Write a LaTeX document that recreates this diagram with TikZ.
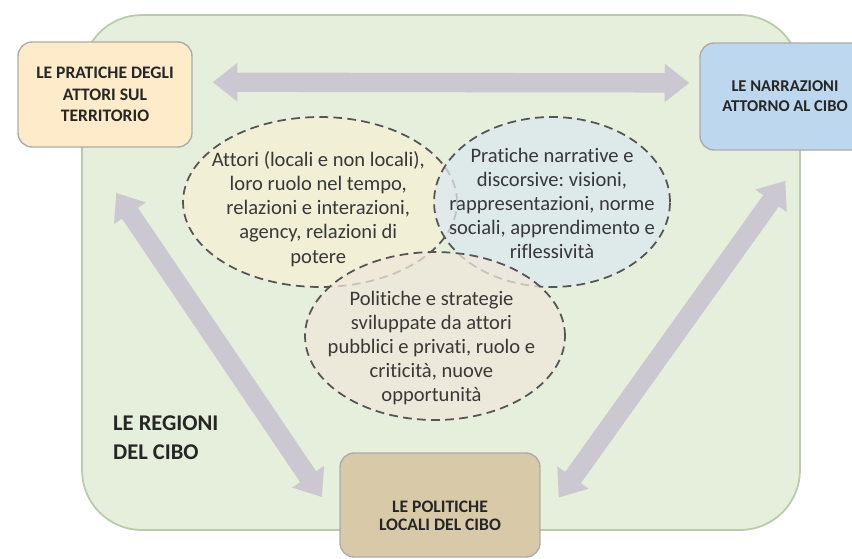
\documentclass[tikz,border=0pt]{standalone}
\usepackage{fontspec}
\setmainfont{Carlito}[Ligatures=NoCommon]
\usepackage{tikz}
\usetikzlibrary{arrows.meta, shapes.geometric}
\frenchspacing

\definecolor{regiongreen}{HTML}{E5EFDB}
\definecolor{regionedge}{HTML}{B9CBA9}
\definecolor{practicefill}{HTML}{FDEBC9}
\definecolor{narrfill}{HTML}{BDD7EE}
\definecolor{polfill}{HTML}{D8CAA9}
\definecolor{arrowgray}{HTML}{CCC8D2}
\definecolor{ovalyellow}{HTML}{F6F1D6}
\definecolor{ovalblue}{HTML}{DCE8F0}
\definecolor{ovalbeige}{HTML}{F0E7DA}
\definecolor{dashgray}{HTML}{555555}

\begin{document}
\begin{tikzpicture}[
  x=0.02cm, y=-0.02cm,
  boxnode/.style={draw=gray!65, rounded corners=8pt, line width=0.8pt,
               align=center, font=\fontsize{10}{12.3}\selectfont\bfseries, text=black!85},
  oval/.style={ellipse, draw=dashgray, dashed, dash pattern=on 5pt off 3pt,
               line width=1pt, fill opacity=0.75, draw opacity=1, inner sep=0pt},
  ovaltext/.style={align=center, font=\fontsize{11.7}{13.7}\selectfont,
               text=black!78, text opacity=1},
  bigarrow/.style={draw=arrowgray, line width=11pt,
               {Triangle[length=14pt,width=21pt]}-{Triangle[length=14pt,width=21pt]}}
]
  \useasboundingbox (0,0) rectangle (852,558);
  \clip (0,0) rectangle (852,558);
  \fill[white] (0,0) rectangle (852,558);

  % background region
  \node[draw=regionedge, fill=regiongreen, rounded corners=34pt, line width=1pt,
        minimum width=14.36cm, minimum height=10.3cm] (regions) at (441,272.5) {};
  \node[anchor=west, align=left, font=\fontsize{12.8}{16.5}\selectfont\bfseries,
        text=black!85] (regtxt) at (107,437.5) {LE REGIONI\\DEL CIBO};

  % corner boxes
  \node[boxnode, fill=practicefill, minimum width=3.48cm, minimum height=2.1cm]
        (prat) at (105,94.5) {LE PRATICHE DEGLI\\ATTORI SUL\\TERRITORIO};
  \node[boxnode, fill=narrfill, minimum width=3.4cm, minimum height=2.14cm,
        font=\fontsize{9.4}{11.4}\selectfont\bfseries]
        (narr) at (785,96.5) {LE NARRAZIONI\\ATTORNO AL CIBO};
  \node[boxnode, fill=polfill, minimum width=4cm, minimum height=2.08cm,
        label={[font=\fontsize{10}{10.5}\selectfont\bfseries, align=center,
                text=black!85, yshift=-6pt]center:LE POLITICHE\\LOCALI DEL CIBO}]
        (pol) at (440,505) {};

  % arrows between boxes
  \draw[bigarrow, shorten <=0.4cm, shorten >=0.2cm] (prat.8) -- (narr.171);
  \draw[bigarrow, shorten <=1.09cm, shorten >=0.62cm] (prat.250) -- (pol.190);
  \draw[bigarrow, shorten <=0.74cm, shorten >=0.62cm] (narr.292) -- (pol.350);

  % overlapping themes
  \node[oval, fill=ovalyellow, minimum width=5.48cm, minimum height=3.4cm,
        label={[ovaltext, xshift=-1pt, yshift=-4pt]center:Attori (locali e non locali),\\loro ruolo nel tempo,\\relazioni e interazioni,\\agency, relazioni di\\potere}]
        (attori) at (320,202) {};
  \node[oval, fill=ovalblue, minimum width=4.72cm, minimum height=3.4cm,
        label={[ovaltext, yshift=-1pt]center:Pratiche narrative e\\discorsive: visioni,\\rappresentazioni, norme\\sociali, apprendimento e\\riflessività}]
        (narrative) at (552,202) {};
  \node[oval, fill=ovalbeige, minimum width=5.2cm, minimum height=3.36cm,
        label={[ovaltext, xshift=-2pt, yshift=-7pt]center:Politiche e strategie\\sviluppate da attori\\pubblici e privati, ruolo e\\criticità, nuove\\opportunità}]
        (strategie) at (435,336) {};
\end{tikzpicture}
\end{document}
